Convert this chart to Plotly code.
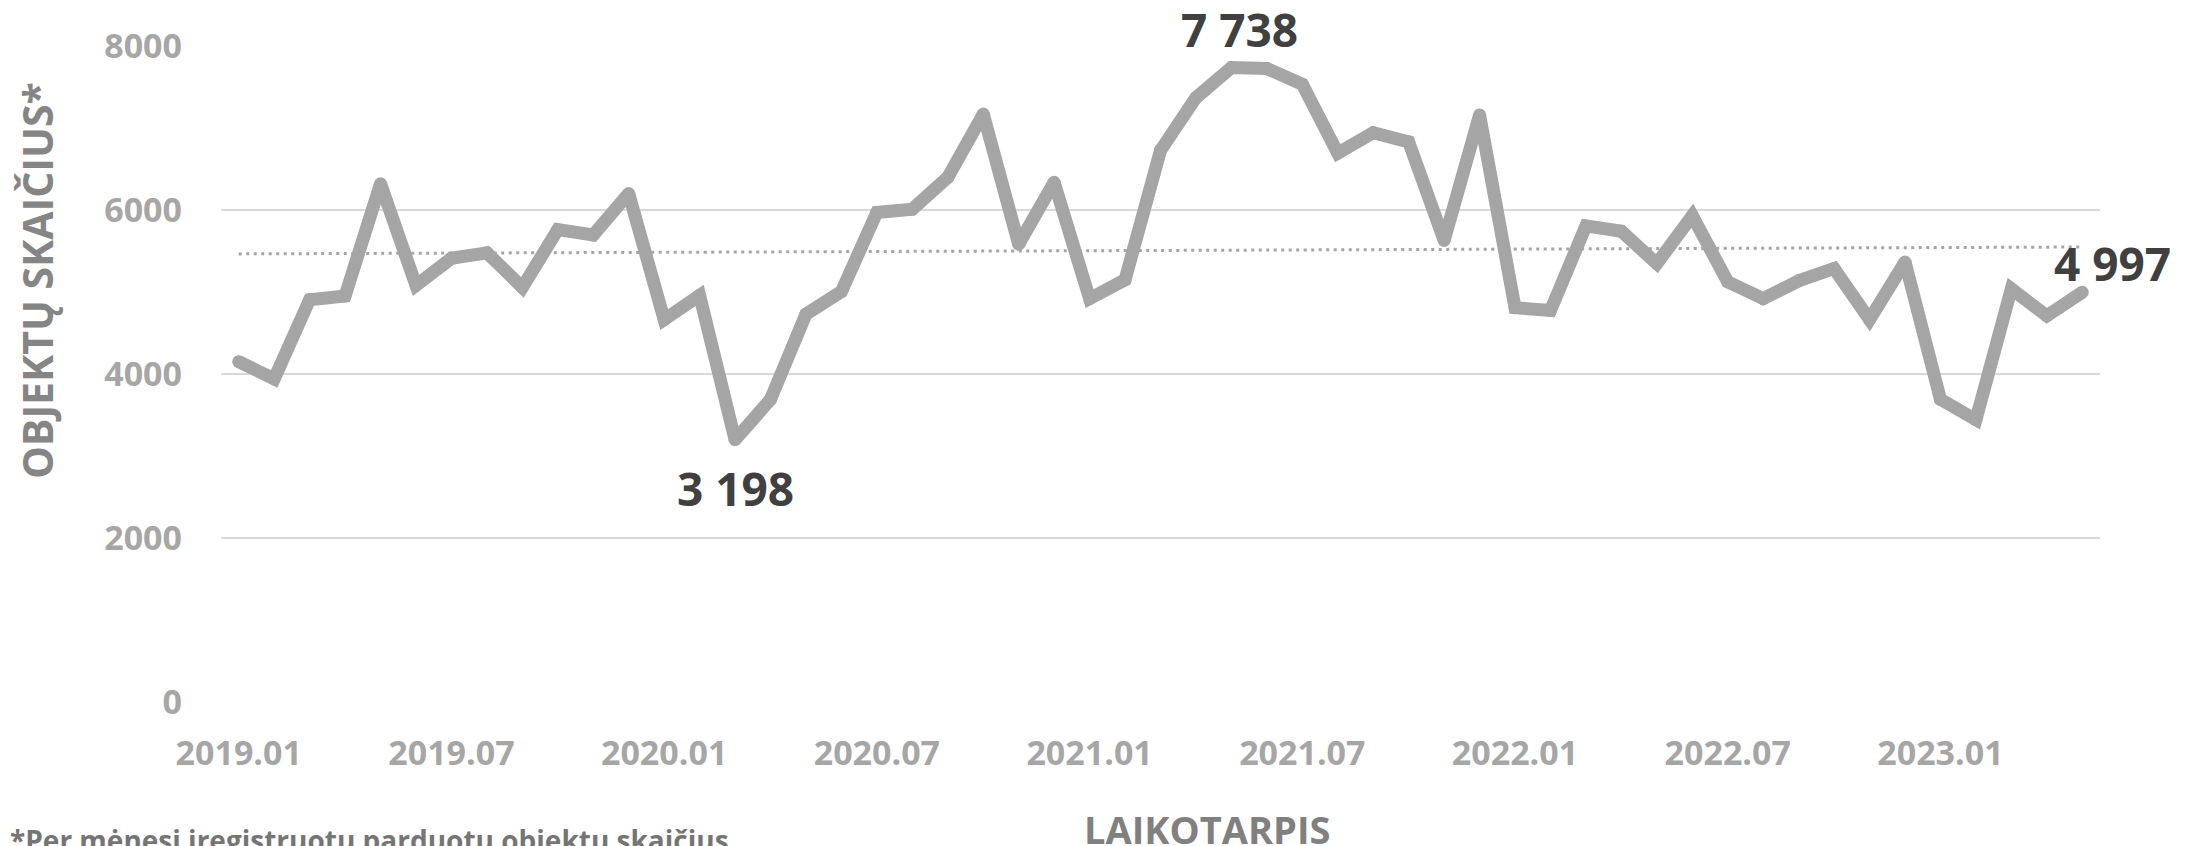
import numpy as np
import plotly.graph_objects as go

months = [f"{y}.{m:02d}" for y in range(2019, 2024) for m in range(1, 13)][:53]
values = [4150, 3940, 4906, 4952, 6320, 5080, 5412, 5478, 5057, 5760, 5695, 6200,
          4663, 4959, 3198, 3691, 4729, 5005, 5970, 6010, 6397, 7170, 5583, 6338,
          4919, 5149, 6726, 7369, 7738, 7725, 7534, 6693, 6943, 6831, 5629, 7159,
          4808, 4775, 5806, 5741, 5346, 5930, 5123, 4919, 5136, 5287, 4663, 5366,
          3691, 3442, 5038, 4709, 4997]
tick_labels = ["2019.01", "2019.07", "2020.01", "2020.07", "2021.01", "2021.07",
               "2022.01", "2022.07", "2023.01"]
y_ticks = [0, 2000, 4000, 6000, 8000]
labelled = ["3 198", "7 738", "4 997"]

idx = np.arange(len(values))
slope, intercept = np.polyfit(idx, values, 1)
trend = slope * idx + intercept

FONT = "Open Sans"
LINE = "#A5A5A5"
fig = go.Figure()
fig.add_trace(go.Scatter(x=months, y=trend, mode="lines",
                         line=dict(color=LINE, width=3, dash="3px,4.5px"),
                         hoverinfo="skip", showlegend=False))
fig.add_trace(go.Scatter(x=months, y=values, mode="lines+markers",
                         line=dict(color=LINE, width=13),
                         marker=dict(color=LINE, size=13, line=dict(width=0)),
                         showlegend=False))

ann_font = dict(family=FONT, size=46, color="#404040", weight="bold")
i_min = int(np.argmin(values)); i_max = int(np.argmax(values)); i_last = len(values) - 1
for i, txt, dx, dy in [(i_min, labelled[0], 0, -48), (i_max, labelled[1], 8, 38),
                       (i_last, labelled[2], 30, 29)]:
    fig.add_annotation(xref="x", yref="y", x=i, y=values[i], text=txt, showarrow=False,
                       xanchor="center", yanchor="middle", xshift=dx, yshift=dy,
                       font=ann_font)

fig.add_annotation(xref="paper", yref="paper", x=-0.0976, y=0.643, text="OBJEKTŲ SKAIČIUS*",
                   textangle=-90, showarrow=False, xanchor="center", yanchor="middle",
                   font=dict(family=FONT, size=41, color="#858585", weight="bold"))
fig.add_annotation(xref="paper", yref="paper", x=0.5245, y=-0.1936, text="LAIKOTARPIS",
                   showarrow=False, xanchor="center", yanchor="middle",
                   font=dict(family=FONT, size=38, color="#808080", weight="bold"))
fig.add_annotation(xref="paper", yref="paper", x=-0.1135, y=-0.179,
                   text="*Per mėnesį įregistruotų parduotų objektų skaičius",
                   showarrow=False, xanchor="left", yanchor="top",
                   font=dict(family=FONT, size=28, color="#757575", weight="bold"))

# page body has an 8px margin, so the figure is 8px smaller and margins shifted
fig.update_layout(
    width=2181, height=838,
    margin=dict(l=213, r=89, t=38, b=144),
    plot_bgcolor="white", paper_bgcolor="white",
    xaxis=dict(type="category", range=[-0.5, len(values) - 0.5], tickmode="array",
               tickvals=tick_labels, ticktext=tick_labels, showgrid=False,
               showline=False, zeroline=False, ticks="", ticklabelstandoff=28,
               tickfont=dict(family=FONT, size=34, color="#A6A6A6", weight="bold")),
    yaxis=dict(range=[0, 8000], tickvals=y_ticks, showgrid=True, gridcolor="#D9D9D9",
               gridwidth=2, zeroline=False, showline=False, ticks="",
               ticklabelstandoff=38,
               tickfont=dict(family=FONT, size=34, color="#A6A6A6", weight="bold")),
)
fig.write_html("out.html")
